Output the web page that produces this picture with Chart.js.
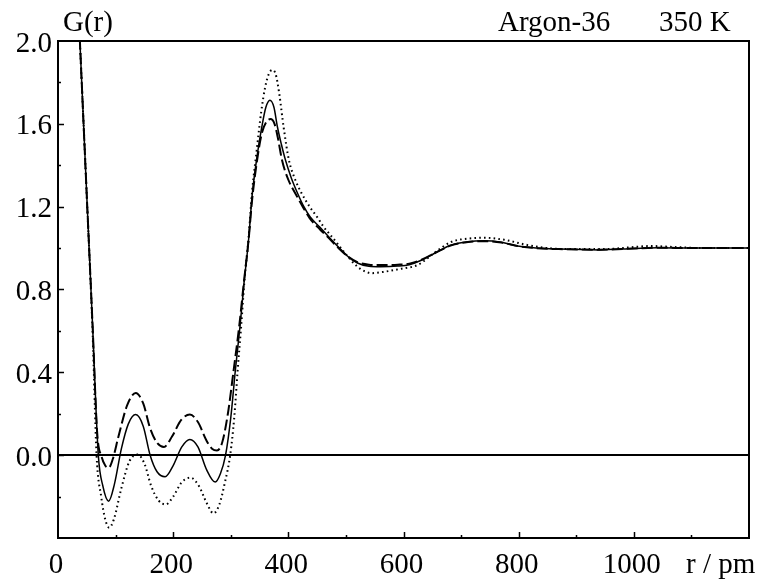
<!DOCTYPE html>
<html>
<head>
<meta charset="utf-8">
<script src="https://cdn.jsdelivr.net/npm/chart.js@4"></script>
<style>
  html, body { margin: 0; padding: 0; background: #fff; }
</style>
</head>
<body>
<canvas id="chartG" width="759" height="580"></canvas>
<script>
/* ===================================
   G(r) - Argon-36, 350 K
   =================================== */

// r / pm and G(r), one pair of arrays per curve
const rSolid = [20, 30, 38, 50, 60, 70, 78, 88, 98, 110, 122, 135, 148, 160, 172, 186, 200, 215, 229, 243,
  258, 273, 282, 291, 300, 308, 316, 323, 331, 337, 345, 354, 361, 368, 375, 381, 388, 395, 405, 416,
  427, 438, 455, 470, 487, 504, 520, 540, 560, 590, 610, 630, 654, 683, 712, 740, 770, 798, 830, 870,
  940, 1000, 1040, 1100, 1200];
const gSolid = [3.1, 2.5, 2.0, 1.25, 0.63, 0.0, -0.15, -0.222, -0.14, 0.03, 0.15, 0.196, 0.14, 0.0, -0.08, -0.104, -0.05, 0.04, 0.076, 0.04,
  -0.07, -0.13, -0.09, 0.0, 0.18, 0.41, 0.62, 0.83, 1.04, 1.25, 1.43, 1.586, 1.68, 1.714, 1.68, 1.586, 1.5, 1.425, 1.34, 1.265,
  1.2, 1.15, 1.1, 1.055, 1.005, 0.958, 0.928, 0.912, 0.910, 0.913, 0.92, 0.94, 0.975, 1.015, 1.031, 1.035, 1.028, 1.01, 1.0, 0.995,
  0.991, 0.998, 1.002, 1.0, 1.0];

const rDash = [20, 30, 38, 50, 60, 68, 76, 82, 88, 95, 105, 120, 135, 148, 160, 172, 184, 198, 214, 229,
  243, 258, 268, 276, 285, 295, 305, 315, 323, 331, 337, 345, 354, 362, 369, 376, 382, 389, 400, 412,
  425, 437, 455, 470, 487, 504, 520, 540, 560, 590, 610, 630, 654, 683, 712, 740, 770, 798, 830, 870,
  940, 1000, 1040, 1100, 1200];
const gDash = [3.1, 2.5, 2.0, 1.25, 0.63, 0.11, -0.01, -0.05, -0.061, -0.02, 0.09, 0.24, 0.30, 0.25, 0.13, 0.06, 0.04, 0.09, 0.17, 0.196,
  0.16, 0.07, 0.03, 0.023, 0.06, 0.2, 0.41, 0.63, 0.84, 1.04, 1.23, 1.41, 1.555, 1.61, 1.623, 1.6, 1.53, 1.425, 1.33, 1.265,
  1.2, 1.145, 1.09, 1.05, 1.0, 0.958, 0.932, 0.92, 0.918, 0.92, 0.925, 0.942, 0.975, 1.013, 1.029, 1.033, 1.027, 1.01, 1.0, 0.995,
  0.992, 0.998, 1.002, 1.0, 1.0];

const rDot = [20, 30, 38, 50, 60, 67, 75, 82, 89, 97, 110, 124, 138, 150, 162, 175, 187, 200, 215, 230,
  245, 258, 270, 280, 290, 299, 306, 312, 318, 324, 331, 337, 345, 353, 360, 366, 372, 378, 384, 392,
  401, 412, 423, 437, 450, 461, 480, 500, 520, 535, 545, 565, 595, 625, 655, 683, 710, 740, 775, 815,
  850, 900, 950, 1000, 1030, 1070, 1120, 1200];
const gDot = [3.1, 2.5, 2.0, 1.25, 0.6, 0.0, -0.2, -0.31, -0.35, -0.31, -0.16, -0.03, 0.003, -0.04, -0.15, -0.22, -0.238, -0.2, -0.13, -0.109,
  -0.15, -0.23, -0.281, -0.24, -0.13, 0.0, 0.18, 0.41, 0.62, 0.85, 1.05, 1.27, 1.47, 1.66, 1.78, 1.84, 1.86, 1.84, 1.75, 1.58,
  1.425, 1.33, 1.265, 1.2, 1.15, 1.104, 1.04, 0.97, 0.91, 0.885, 0.879, 0.885, 0.9, 0.919, 0.98, 1.03, 1.045, 1.05, 1.04, 1.015,
  1.0, 0.995, 0.995, 1.005, 1.01, 1.005, 1.0, 1.0];

// axis settings
const xMin = 0, xMax = 1200, xStep = 200, xMinor = 100;
const yMin = -0.4, yMax = 2.0, yStep = 0.2, yLabelEvery = 0.4;

const titleLeft = 'G(r)';
const titleMid = 'Argon-36';
const titleRight = '350 K';
const xUnit = 'r / pm';

const FONT = '"Liberation Serif", "Times New Roman", serif';

function toPoints(xs, ys) {
  return xs.map((x, i) => ({ x: x, y: ys[i] }));
}

// frame, inward ticks and the loose texts
const framePlugin = {
  id: 'frame',
  afterDraw(chart) {
    const ctx = chart.ctx;
    const a = chart.chartArea;
    const xs = chart.scales.x;
    const ys = chart.scales.y;

    ctx.save();
    ctx.strokeStyle = '#000';
    ctx.lineWidth = 2;
    ctx.strokeRect(a.left, a.top, a.right - a.left, a.bottom - a.top);

    ctx.lineWidth = 1.5;
    ctx.beginPath();
    for (let v = xMin + xMinor; v < xMax; v += xMinor) {
      const px = Math.round(xs.getPixelForValue(v)) + 0.5;
      const len = (v % xStep === 0) ? 6 : 3;
      ctx.moveTo(px, a.bottom);
      ctx.lineTo(px, a.bottom - len);
    }
    for (let k = 1; k < Math.round((yMax - yMin) / yStep); k++) {
      const v = yMin + k * yStep;
      const py = Math.round(ys.getPixelForValue(v)) + 0.5;
      const major = Math.abs(Math.round(v / yLabelEvery) * yLabelEvery - v) < 1e-6;
      ctx.moveTo(a.left, py);
      ctx.lineTo(a.left + (major ? 6 : 3), py);
    }
    ctx.stroke();

    ctx.fillStyle = '#000';
    ctx.font = '29px ' + FONT;
    ctx.textBaseline = 'alphabetic';
    ctx.textAlign = 'left';
    ctx.fillText(titleLeft, 63, 31);
    ctx.fillText(titleMid, 498, 31);
    ctx.fillText(titleRight, 659, 31);
    ctx.fillText(xUnit, 686, 573);
    ctx.restore();
  }
};

new Chart(document.getElementById('chartG').getContext('2d'), {
  type: 'line',
  data: {
    datasets: [
      {
        data: toPoints(rSolid, gSolid),
        borderColor: '#000',
        borderWidth: 1.5
      },
      {
        data: toPoints(rDash, gDash),
        borderColor: '#000',
        borderWidth: 2,
        borderDash: [11, 4]
      },
      {
        data: toPoints(rDot, gDot),
        borderColor: '#000',
        borderWidth: 2,
        borderDash: [1.6, 3.2]
      }
    ]
  },
  options: {
    responsive: false,
    animation: false,
    devicePixelRatio: 1,
    layout: { padding: { top: 41, right: 7, left: 0, bottom: 0 } },
    elements: {
      point: { radius: 0 },
      line: { fill: false, cubicInterpolationMode: 'monotone' }
    },
    plugins: {
      legend: { display: false },
      tooltip: { enabled: false }
    },
    scales: {
      x: {
        type: 'linear',
        min: xMin,
        max: xMax,
        grid: { display: false, drawTicks: false },
        border: { display: false },
        ticks: {
          stepSize: xStep,
          maxRotation: 0,
          autoSkip: false,
          padding: 10,
          labelOffset: -2,
          color: '#000',
          font: { family: FONT, size: 29 },
          callback: v => (v < xMax ? String(v) : '')
        },
        afterFit: s => { s.height = 42; }
      },
      y: {
        min: yMin,
        max: yMax,
        grid: {
          drawTicks: false,
          lineWidth: 2,
          color: c => (Math.abs(c.tick.value) < 1e-9 ? '#000' : 'rgba(0,0,0,0)')
        },
        border: { display: false },
        ticks: {
          stepSize: yStep,
          autoSkip: false,
          padding: 6,
          labelOffset: 3,
          color: '#000',
          font: { family: FONT, size: 29 },
          callback: v => {
            const k = Math.round(v * 10);
            return (k >= 0 && k % 4 === 0) ? (k / 10).toFixed(1) : '';
          }
        },
        afterFit: s => { s.width = 58; }
      }
    }
  },
  plugins: [framePlugin]
});
</script>
</body>
</html>
